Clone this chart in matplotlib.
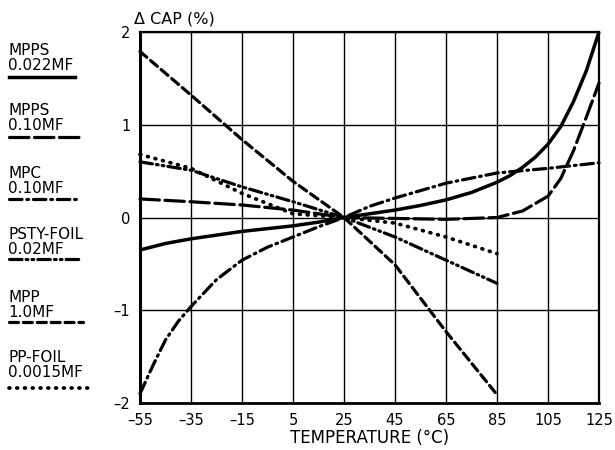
import matplotlib
matplotlib.use("Agg")
import matplotlib.pyplot as plt

# temperature (deg C) / capacitance change (%)
mpps_022_t = [-55, -45, -35, -25, -15, -5, 5, 15, 25, 35, 45, 55, 65, 75, 85, 90, 95, 100, 105, 110, 115, 120, 125]
mpps_022_v = [-0.35, -0.28, -0.23, -0.19, -0.15, -0.12, -0.09, -0.05, 0.0, 0.04, 0.08, 0.13, 0.19, 0.27, 0.38, 0.45, 0.54, 0.65, 0.79, 0.98, 1.25, 1.58, 2.0]

mpps_10_t = [-55, -35, -15, 5, 15, 25, 45, 65, 85, 95, 105, 110, 115, 120, 125]
mpps_10_v = [0.20, 0.17, 0.135, 0.08, 0.04, 0.0, -0.01, -0.02, 0.0, 0.07, 0.23, 0.42, 0.72, 1.08, 1.45]

mpc_t = [-55, -50, -45, -40, -35, -25, -15, -5, 5, 15, 25, 35, 45, 55, 65, 85, 105, 125]
mpc_v = [-1.9, -1.6, -1.32, -1.12, -0.96, -0.67, -0.46, -0.32, -0.21, -0.1, 0.0, 0.12, 0.21, 0.29, 0.37, 0.48, 0.53, 0.59]

psty_t = [-55, -35, -15, 5, 25, 45, 65, 85]
psty_v = [0.60, 0.51, 0.33, 0.17, 0.0, -0.21, -0.46, -0.71]

mpp_t = [-55, -35, -15, 5, 25, 45, 65, 85]
mpp_v = [1.79, 1.32, 0.84, 0.39, 0.0, -0.51, -1.23, -1.91]

ppfoil_t = [-55, -35, -15, 5, 25, 45, 65, 85]
ppfoil_v = [0.68, 0.53, 0.26, 0.04, 0.0, -0.06, -0.21, -0.39]

x_ticks = [-55, -35, -15, 5, 25, 45, 65, 85, 105, 125]
y_ticks = [-2, -1, 0, 1, 2]

legend_names = [("MPPS", "0.022MF"), ("MPPS", "0.10MF"), ("MPC", "0.10MF"),
                ("PSTY-FOIL", "0.02MF"), ("MPP", "1.0MF"), ("PP-FOIL", "0.0015MF")]

plt.rcParams['lines.scale_dashes'] = False
plt.rcParams['font.family'] = 'DejaVu Sans'

styles = [
    dict(ls='-', lw=2.5),
    dict(ls=(0, (14, 4)), lw=2.3),
    dict(ls=(0, (9, 3.5, 1.2, 3.5)), lw=2.3),
    dict(ls=(0, (9, 3, 1.2, 3, 1.2, 3)), lw=2.3),
    dict(ls=(0, (6.5, 3.5)), lw=2.3),
    dict(ls=(0, (0.6, 5)), lw=2.7),
]
series = [(mpps_022_t, mpps_022_v), (mpps_10_t, mpps_10_v), (mpc_t, mpc_v),
          (psty_t, psty_v), (mpp_t, mpp_v), (ppfoil_t, ppfoil_v)]

fig = plt.figure(figsize=(6.15, 4.5), dpi=100)
ax = fig.add_axes([140 / 615, 1 - 403 / 450, 459 / 615, 371 / 450])

for (t, v), st in zip(series, styles):
    ax.plot(t, v, color='black', linestyle=st['ls'], lw=st['lw'],
            dash_capstyle='round', solid_capstyle='butt', clip_on=False)

ax.set_xlim(-55, 125)
ax.set_ylim(-2, 2)
ax.set_xticks(x_ticks)
ax.set_yticks(y_ticks)
ax.set_xticklabels([str(x).replace('-', '\u2013') for x in x_ticks])
ax.set_yticklabels([str(y).replace('-', '\u2013') for y in y_ticks])
ax.tick_params(length=0, labelsize=10.5, colors='black')
ax.tick_params(axis='x', pad=7)
ax.tick_params(axis='y', pad=7)
ax.grid(True, color='black', lw=1.0)
for s in ax.spines.values():
    s.set_linewidth(1.6)
ax.spines['left'].set_linewidth(2.2)
ax.spines['bottom'].set_linewidth(2.0)

fig.text(370 / 615, 1 - 443 / 450, 'TEMPERATURE (\u00b0C)', fontsize=12,
         va='baseline', ha='center')
fig.text(134 / 615, 1 - 23 / 450, '\u0394 CAP (%)', fontsize=11.5,
         va='baseline', ha='left')

# legend drawn at the left side
base_y = [(55, 70), (115, 130), (178, 193), (239, 254), (302, 317), (362, 377)]
line_y = [77, 137, 199, 259, 322, 388]
line_end = [75, 80, 76, 82, 83, 88]
for (n1, n2), (b1, b2), ly, le, st in zip(legend_names, base_y, line_y, line_end, styles):
    fig.text(8 / 615, 1 - b1 / 450, n1, fontsize=11, va='baseline', ha='left')
    fig.text(8 / 615, 1 - b2 / 450, n2, fontsize=11, va='baseline', ha='left')
    fig.add_artist(plt.Line2D([9 / 615, le / 615], [1 - ly / 450, 1 - ly / 450],
                              color='black', linestyle=st['ls'], lw=st['lw'],
                              dash_capstyle='round', transform=fig.transFigure))

fig.savefig('out.png', dpi=100)
